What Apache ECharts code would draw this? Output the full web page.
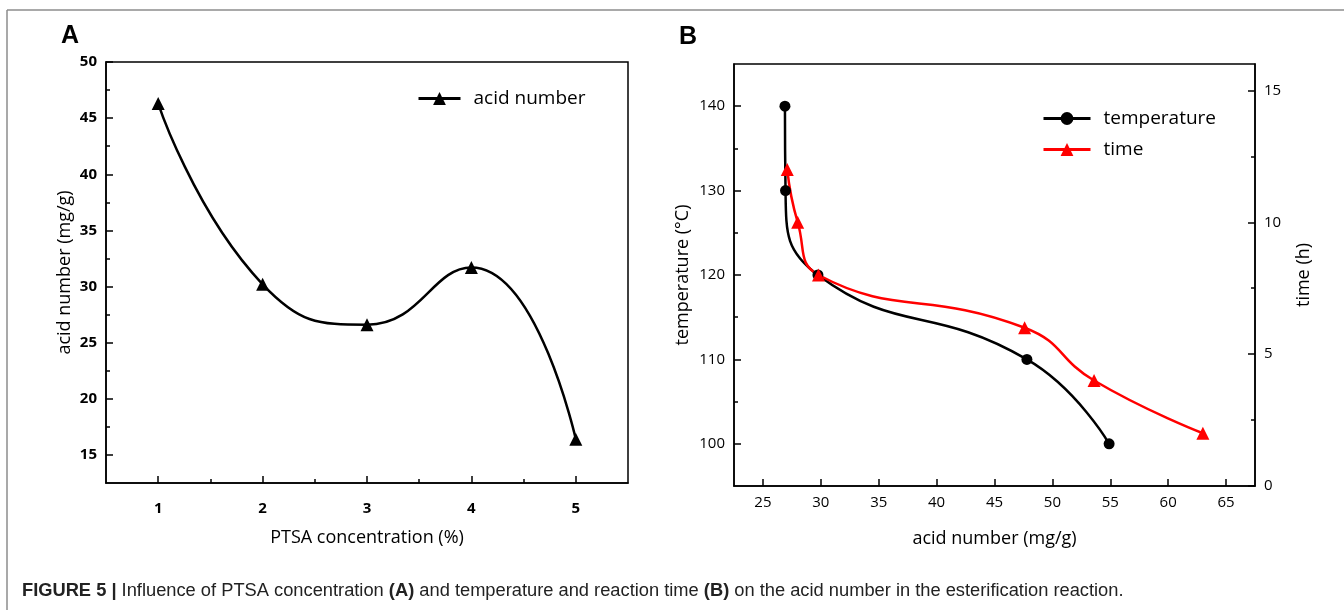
<!DOCTYPE html>
<html>
<head>
<meta charset="UTF-8">
<title>Figure 5</title>
<script src="https://cdn.jsdelivr.net/npm/echarts@6/dist/echarts.min.js"></script>
<style>
  html, body { margin: 0; padding: 0; background: #fff; }
  #chart { width: 1344px; height: 610px; }
</style>
</head>
<body>
<div id="chart"></div>
<script>
// panel A: PTSA concentration vs acid number
var conc = [1, 2, 3, 4, 5];
var acidA = [46.3, 30.2, 26.6, 31.7, 16.4];
var concTicks = [1, 2, 3, 4, 5];
var concMinor = [1.5, 2.5, 3.5, 4.5];
var acidTicks = [15, 20, 25, 30, 35, 40, 45, 50];
var acidMinor = [17.5, 22.5, 27.5, 32.5, 37.5, 42.5, 47.5];

// panel B: temperature / time vs acid number
var tempAcid = [26.9, 26.95, 29.75, 47.8, 54.9];
var temp = [140, 130, 120, 110, 100];
var timeAcid = [27.1, 28.0, 29.8, 47.6, 53.6, 63.0];
var time = [12, 10, 8, 6, 4, 2];
var acidBTicks = [25, 30, 35, 40, 45, 50, 55, 60, 65];
var tempTicks = [100, 110, 120, 130, 140];
var tempMinor = [105, 115, 125, 135];
var timeTicks = [0, 5, 10, 15];
var timeMinor = [2.5, 7.5, 12.5];

var FONT = '"Open Sans", "Noto Sans", sans-serif';

function pairs(xs, ys) {
  return xs.map(function (x, i) { return [x, ys[i]]; });
}

// main axis: line + long inner ticks + labels
function mainAxis(o) {
  return {
    type: 'value',
    gridIndex: o.grid,
    position: o.position,
    min: o.min,
    max: o.max,
    name: o.name,
    nameLocation: 'middle',
    nameGap: o.nameGap,
    nameTextStyle: { color: '#000', fontFamily: FONT, fontSize: 18 },
    axisLine: { show: true, lineStyle: { color: '#000', width: 1.5 } },
    axisTick: { show: true, inside: true, length: 7, customValues: o.ticks,
      lineStyle: { color: '#000', width: 1.5 } },
    axisLabel: { show: true, customValues: o.ticks, margin: o.margin || 9, color: '#000',
      fontFamily: FONT, fontSize: 15, fontWeight: o.bold ? 'bold' : 'normal' },
    splitLine: { show: false }
  };
}

// helper axis that only draws the short minor ticks
function minorAxis(o) {
  return {
    type: 'value',
    gridIndex: o.grid,
    position: o.position,
    min: o.min,
    max: o.max,
    axisLine: { show: false },
    axisTick: { show: true, inside: true, length: 4, customValues: o.ticks,
      lineStyle: { color: '#000', width: 1.5 } },
    axisLabel: { show: false },
    splitLine: { show: false }
  };
}

var chart = echarts.init(document.getElementById('chart'));

var legendText = { color: '#000', fontFamily: FONT, fontSize: 19, padding: [0, 0, 0, 8] };

var option = {
  animation: false,
  backgroundColor: '#fff',
  grid: [
    { left: 106, top: 62, width: 522, height: 421, show: true,
      borderColor: '#000', borderWidth: 1.5, backgroundColor: 'transparent' },
    { left: 734, top: 64, width: 521, height: 422, show: true,
      borderColor: '#000', borderWidth: 1.5, backgroundColor: 'transparent' }
  ],
  xAxis: [
    mainAxis({ grid: 0, position: 'bottom', min: 0.5, max: 5.5, ticks: concTicks,
      name: 'PTSA concentration (%)', nameGap: 46, bold: true, margin: 18 }),
    minorAxis({ grid: 0, position: 'bottom', min: 0.5, max: 5.5, ticks: concMinor }),
    mainAxis({ grid: 1, position: 'bottom', min: 22.5, max: 67.5, ticks: acidBTicks,
      name: 'acid number (mg/g)', nameGap: 44 })
  ],
  yAxis: [
    mainAxis({ grid: 0, position: 'left', min: 12.5, max: 50, ticks: acidTicks,
      name: 'acid number (mg/g)', nameGap: 32, bold: true }),
    minorAxis({ grid: 0, position: 'left', min: 12.5, max: 50, ticks: acidMinor }),
    mainAxis({ grid: 1, position: 'left', min: 95, max: 145, ticks: tempTicks,
      name: 'temperature (\u00B0C)', nameGap: 42 }),
    minorAxis({ grid: 1, position: 'left', min: 95, max: 145, ticks: tempMinor }),
    mainAxis({ grid: 1, position: 'right', min: 0, max: 16, ticks: timeTicks,
      name: 'time (h)', nameGap: 40 }),
    minorAxis({ grid: 1, position: 'right', min: 0, max: 16, ticks: timeMinor })
  ],
  legend: [
    { data: ['acid number'], left: 412, top: 84, itemWidth: 42, itemHeight: 16,
      lineStyle: { width: 3 }, textStyle: legendText },
    { data: ['temperature', 'time'], orient: 'vertical', left: 1037, top: 104,
      itemWidth: 47, itemHeight: 16, itemGap: 12,
      lineStyle: { width: 3 }, textStyle: legendText }
  ],
  series: [
    { name: 'acid number', type: 'line', xAxisIndex: 0, yAxisIndex: 0,
      data: pairs(conc, acidA), smooth: 0.5, symbol: 'triangle', symbolSize: 13,
      itemStyle: { color: '#000' }, lineStyle: { color: '#000', width: 2.5 } },
    { name: 'temperature', type: 'line', xAxisIndex: 2, yAxisIndex: 2,
      data: pairs(tempAcid, temp), smooth: 0.5, symbol: 'circle', symbolSize: 11,
      itemStyle: { color: '#000' }, lineStyle: { color: '#000', width: 2.5 } },
    { name: 'time', type: 'line', xAxisIndex: 2, yAxisIndex: 4,
      data: pairs(timeAcid, time), smooth: 0.5, symbol: 'triangle', symbolSize: 13,
      itemStyle: { color: '#ff0000' }, lineStyle: { color: '#ff0000', width: 2.5 } }
  ],
  graphic: [
    { type: 'line', shape: { x1: 7, y1: 10, x2: 1344, y2: 10 },
      style: { stroke: '#8c8c8c', lineWidth: 1.5 } },
    { type: 'line', shape: { x1: 7, y1: 10, x2: 7, y2: 610 },
      style: { stroke: '#8c8c8c', lineWidth: 1.5 } },
    { type: 'text', left: 61, top: 24,
      style: { text: 'A', fill: '#000', font: 'bold 25px "Liberation Sans", Arial, sans-serif' } },
    { type: 'text', left: 679, top: 25,
      style: { text: 'B', fill: '#000', font: 'bold 25px "Liberation Sans", Arial, sans-serif' } },
    { type: 'text', left: 22, top: 582,
      style: {
        text: '{b|FIGURE 5 |} Influence of PTSA concentration {b|(A)} and temperature and reaction time {b|(B)} on the acid number in the esterification reaction.',
        fill: '#222',
        font: '18.3px "Liberation Sans", Arial, sans-serif',
        rich: {
          b: { fontWeight: 'bold', fill: '#222', fontSize: 18.3,
            fontFamily: '"Liberation Sans", Arial, sans-serif' }
        }
      } }
  ]
};

chart.setOption(option);
</script>
</body>
</html>
